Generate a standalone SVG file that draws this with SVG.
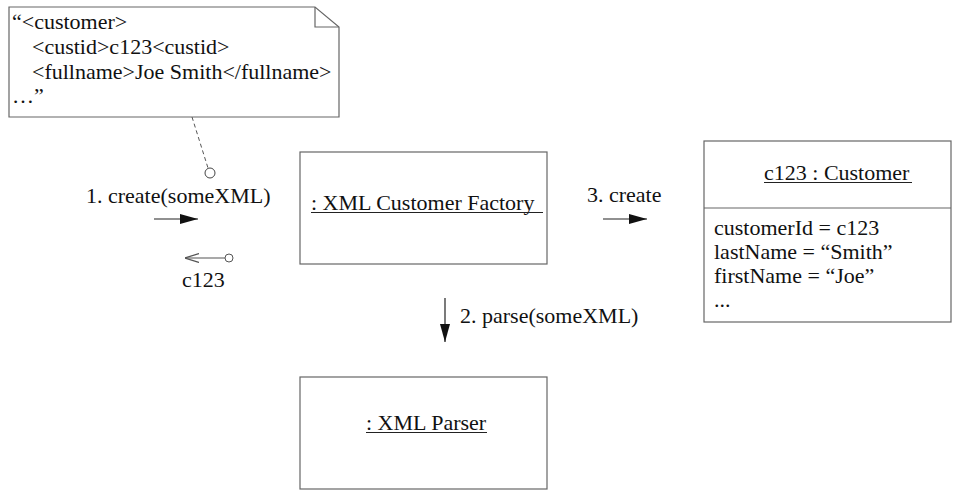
<svg xmlns="http://www.w3.org/2000/svg" width="962" height="497" viewBox="0 0 962 497">
<style>
  text { font-family: 'Liberation Serif', 'Times New Roman', Times, 'DejaVu Serif', serif; font-size: 22px; fill: #111; }
  .box { fill: #fff; stroke: #666; stroke-width: 1.2; }
  .ul { stroke: #222; stroke-width: 1.2; }
  .conn { stroke: #222; stroke-width: 1.2; fill: none; }
</style>
<defs>
  <marker id="filled" markerWidth="18" markerHeight="10" refX="18" refY="5" orient="auto" markerUnits="userSpaceOnUse">
    <path d="M0,0 L18,5 L0,10 Z" fill="#111"/>
  </marker>
  <marker id="open" markerWidth="14" markerHeight="10" refX="0" refY="5" orient="auto" markerUnits="userSpaceOnUse">
    <path d="M14,0.5 L0,5 L14,9.5" fill="none" stroke="#555" stroke-width="1.2"/>
  </marker>
</defs>
<rect width="962" height="497" fill="#fff"/>

<g id="note">
  <path class="box" d="M9,7 L315,7 L339,27 L339,117 L9,117 Z"/>
  <path d="M315,7 L315,27 L339,27" fill="none" stroke="#666" stroke-width="1.2"/>
  <text x="12" y="29">“&lt;customer&gt;</text>
  <text x="32" y="54">&lt;custid&gt;c123&lt;custid&gt;</text>
  <text x="32" y="79">&lt;fullname&gt;Joe Smith&lt;/fullname&gt;</text>
  <text x="12" y="103">…”</text>
</g>

<g id="factory">
  <rect class="box" x="300" y="152" width="247" height="112"/>
  <text x="311" y="210">: XML Customer Factory</text>
  <line class="ul" x1="311" y1="212.5" x2="543" y2="212.5"/>
</g>

<g id="customer">
  <rect class="box" x="704" y="141" width="247" height="181"/>
  <line x1="704" y1="208" x2="951" y2="208" stroke="#666" stroke-width="1.2"/>
  <text x="764" y="180">c123 : Customer</text>
  <line class="ul" x1="764" y1="182.5" x2="912" y2="182.5"/>
  <text x="714" y="235">customerId = c123</text>
  <text x="714" y="259">lastName = “Smith”</text>
  <text x="714" y="283">firstName = “Joe”</text>
  <text x="714" y="307">...</text>
</g>

<g id="parser">
  <rect class="box" x="300" y="377" width="247" height="112"/>
  <text x="366" y="430">: XML Parser</text>
  <line class="ul" x1="366" y1="432.5" x2="487" y2="432.5"/>
</g>

<g id="connectors">
  <line x1="192" y1="117" x2="208" y2="168" stroke="#555" stroke-width="1" stroke-dasharray="4,3"/>
  <circle cx="210" cy="173" r="5" fill="#fff" stroke="#444" stroke-width="1"/>
  <text x="86" y="203">1. create(someXML)</text>
  <line class="conn" x1="154" y1="219" x2="198" y2="219" marker-end="url(#filled)"/>
  <line x1="185" y1="258" x2="225" y2="258" stroke="#555" stroke-width="1.2" marker-start="url(#open)"/>
  <circle cx="229" cy="258" r="4" fill="#fff" stroke="#555" stroke-width="1"/>
  <text x="182" y="287">c123</text>

  <text x="587" y="202">3. create</text>
  <line class="conn" x1="603" y1="219" x2="647" y2="219" marker-end="url(#filled)"/>

  <line class="conn" x1="445" y1="298" x2="445" y2="342" marker-end="url(#filled)"/>
  <text x="460" y="323">2. parse(someXML)</text>
</g>
</svg>
